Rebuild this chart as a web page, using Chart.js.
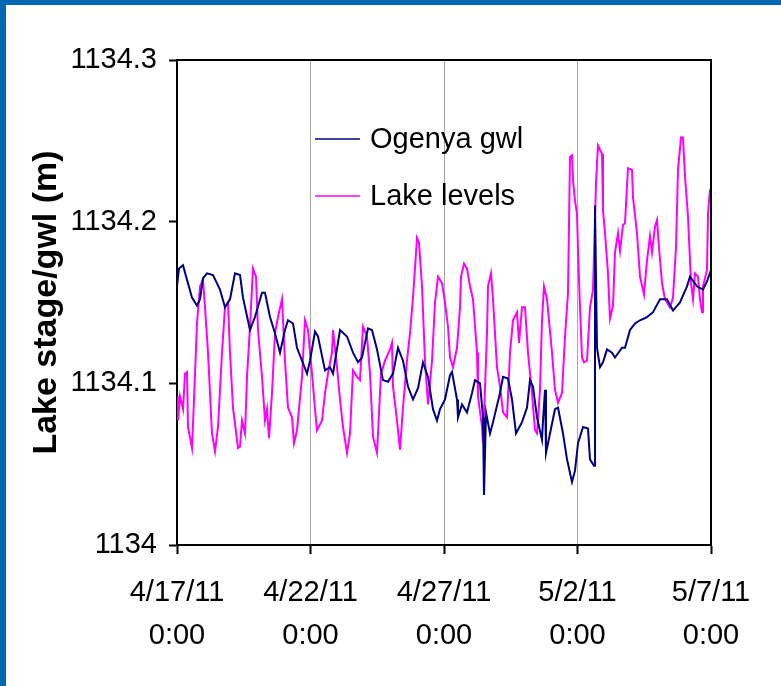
<!DOCTYPE html>
<html>
<head>
<meta charset="utf-8">
<script src="https://cdn.jsdelivr.net/npm/chart.js@4"></script>
<style>
  html, body { margin: 0; padding: 0; background: #fff; }
  canvas { display: block; }
</style>
</head>
<body>
<canvas id="lakeChart" width="781" height="686"></canvas>
<script>
// x = days since 4/17/11 0:00, y = elevation (m)
const xTickLabels = ['4/17/11', '4/22/11', '4/27/11', '5/2/11', '5/7/11'];
const yTickLabels = ['1134', '1134.1', '1134.2', '1134.3'];
const seriesNames = ['Ogenya gwl', 'Lake levels'];

const gwlDays = [0,0.075,0.225,0.375,0.562,0.749,0.861,0.974,1.124,1.348,1.61,1.798,1.985,2.172,2.36,2.472,2.734,2.921,3.184,3.296,3.483,3.67,3.858,4.045,4.157,4.345,4.494,4.682,4.869,4.981,5.169,5.281,5.543,5.73,5.843,6.105,6.367,6.592,6.779,6.929,7.154,7.303,7.491,7.715,7.903,8.09,8.277,8.464,8.652,8.839,9.026,9.213,9.401,9.588,9.738,9.85,10.037,10.225,10.3,10.487,10.524,10.674,10.861,11.049,11.161,11.348,11.461,11.498,11.573,11.723,11.835,12.097,12.21,12.397,12.547,12.697,12.921,13.109,13.221,13.333,13.483,13.67,13.708,13.783,13.82,13.97,14.157,14.27,14.457,14.607,14.794,14.906,15.019,15.206,15.393,15.468,15.618,15.655,15.73,15.843,15.955,16.105,16.292,16.404,16.667,16.779,16.966,17.154,17.341,17.603,17.828,18.09,18.352,18.577,18.839,19.101,19.213,19.476,19.7,19.85,20];
const gwlLevels = [1134.160,1134.171,1134.173,1134.164,1134.153,1134.148,1134.152,1134.165,1134.168,1134.167,1134.158,1134.147,1134.152,1134.168,1134.167,1134.153,1134.133,1134.141,1134.156,1134.156,1134.141,1134.131,1134.119,1134.133,1134.139,1134.137,1134.122,1134.114,1134.106,1134.114,1134.132,1134.129,1134.108,1134.110,1134.106,1134.133,1134.129,1134.119,1134.113,1134.116,1134.134,1134.133,1134.121,1134.102,1134.101,1134.106,1134.122,1134.114,1134.098,1134.090,1134.097,1134.113,1134.104,1134.084,1134.077,1134.084,1134.090,1134.105,1134.107,1134.090,1134.079,1134.087,1134.082,1134.094,1134.102,1134.100,1134.079,1134.031,1134.082,1134.069,1134.076,1134.094,1134.104,1134.103,1134.090,1134.069,1134.076,1134.085,1134.102,1134.098,1134.079,1134.065,1134.077,1134.096,1134.057,1134.069,1134.084,1134.085,1134.069,1134.053,1134.039,1134.046,1134.063,1134.073,1134.072,1134.053,1134.049,1134.210,1134.122,1134.110,1134.113,1134.121,1134.119,1134.116,1134.122,1134.122,1134.133,1134.137,1134.139,1134.141,1134.144,1134.152,1134.152,1134.145,1134.150,1134.160,1134.166,1134.160,1134.158,1134.163,1134.170];

const lakeDays = [0,0.037,0.112,0.225,0.3,0.375,0.412,0.562,0.637,0.749,0.861,0.974,1.049,1.161,1.311,1.423,1.536,1.685,1.798,1.91,1.985,2.097,2.247,2.285,2.36,2.434,2.547,2.622,2.734,2.846,2.959,3.034,3.184,3.296,3.371,3.446,3.558,3.67,3.783,3.933,4.045,4.157,4.307,4.382,4.494,4.682,4.794,4.906,5.056,5.169,5.243,5.431,5.543,5.655,5.805,5.843,5.993,6.105,6.217,6.367,6.479,6.592,6.742,6.854,6.966,7.116,7.228,7.341,7.491,7.64,7.79,7.978,8.052,8.09,8.24,8.352,8.464,8.614,8.727,8.839,8.989,9.064,9.176,9.288,9.401,9.551,9.663,9.775,9.925,10.037,10.15,10.225,10.337,10.487,10.599,10.637,10.749,10.861,10.974,11.086,11.236,11.273,11.423,11.461,11.61,11.648,11.76,11.835,11.985,12.097,12.21,12.36,12.472,12.584,12.734,12.809,12.921,13.034,13.146,13.296,13.408,13.483,13.596,13.67,13.745,13.858,14.045,14.157,14.27,14.419,14.532,14.644,14.719,14.794,14.831,14.906,14.981,15.019,15.094,15.169,15.243,15.356,15.468,15.581,15.693,15.768,15.918,15.955,16.03,16.142,16.217,16.33,16.404,16.517,16.592,16.704,16.779,16.891,17.041,17.079,17.228,17.341,17.491,17.603,17.715,17.79,17.903,17.978,18.052,18.165,18.277,18.464,18.577,18.689,18.764,18.876,18.951,19.026,19.139,19.251,19.326,19.401,19.513,19.588,19.663,19.7,19.85,19.888,19.963,20];
const lakeLevels = [1134.092,1134.077,1134.092,1134.084,1134.106,1134.107,1134.073,1134.060,1134.090,1134.137,1134.160,1134.164,1134.147,1134.119,1134.069,1134.058,1134.073,1134.119,1134.147,1134.150,1134.119,1134.085,1134.065,1134.060,1134.061,1134.077,1134.069,1134.104,1134.135,1134.171,1134.166,1134.133,1134.104,1134.077,1134.084,1134.066,1134.094,1134.131,1134.141,1134.152,1134.114,1134.085,1134.079,1134.063,1134.071,1134.104,1134.139,1134.133,1134.106,1134.084,1134.071,1134.077,1134.094,1134.106,1134.119,1134.133,1134.110,1134.090,1134.073,1134.057,1134.069,1134.108,1134.104,1134.102,1134.135,1134.129,1134.106,1134.067,1134.057,1134.106,1134.114,1134.121,1134.125,1134.098,1134.077,1134.059,1134.085,1134.114,1134.131,1134.153,1134.190,1134.187,1134.160,1134.114,1134.087,1134.114,1134.150,1134.166,1134.162,1134.150,1134.135,1134.116,1134.110,1134.122,1134.147,1134.166,1134.174,1134.171,1134.160,1134.152,1134.119,1134.092,1134.073,1134.063,1134.131,1134.160,1134.168,1134.152,1134.110,1134.098,1134.082,1134.079,1134.119,1134.139,1134.144,1134.125,1134.147,1134.147,1134.119,1134.094,1134.071,1134.069,1134.096,1134.139,1134.160,1134.152,1134.119,1134.096,1134.088,1134.094,1134.129,1134.156,1134.240,1134.241,1134.226,1134.213,1134.205,1134.182,1134.147,1134.116,1134.113,1134.114,1134.147,1134.158,1134.224,1134.247,1134.242,1134.207,1134.193,1134.168,1134.140,1134.148,1134.181,1134.193,1134.182,1134.198,1134.199,1134.233,1134.232,1134.215,1134.193,1134.166,1134.155,1134.176,1134.191,1134.181,1134.197,1134.201,1134.184,1134.162,1134.152,1134.147,1134.153,1134.184,1134.232,1134.252,1134.252,1134.228,1134.203,1134.162,1134.152,1134.168,1134.166,1134.152,1134.144,1134.160,1134.170,1134.205,1134.220,1134.213];

const FONT = "'Liberation Sans Narrow', 'Arial Narrow', 'Liberation Sans', Arial, sans-serif";

function toPoints(xs, ys) {
    return xs.map((x, i) => ({ x: x, y: ys[i] }));
}

// 배경 + 파란 테두리 + 플롯 상/우 테두리 + 범례
const framePlugin = {
    id: 'frame',
    beforeDraw(chart) {
        const ctx = chart.ctx;
        ctx.save();
        ctx.fillStyle = '#ffffff';
        ctx.fillRect(0, 0, chart.width, chart.height);
        ctx.fillStyle = '#0068B3';
        ctx.fillRect(0, 0, chart.width, 5);
        ctx.fillRect(0, 0, 6, chart.height);
        ctx.restore();
    },
    afterDraw(chart) {
        const ctx = chart.ctx;
        const a = chart.chartArea;
        ctx.save();
        ctx.strokeStyle = '#000';
        ctx.lineWidth = 2;
        ctx.beginPath();
        ctx.moveTo(a.left, a.top);
        ctx.lineTo(a.right, a.top);
        ctx.lineTo(a.right, a.bottom);
        ctx.stroke();

        // 범례
        ctx.font = '29px ' + FONT;
        ctx.textBaseline = 'middle';
        ctx.fillStyle = '#000';
        chart.data.datasets.forEach((ds, i) => {
            const y = 139 + i * 57;
            ctx.beginPath();
            ctx.strokeStyle = ds.borderColor;
            ctx.lineWidth = 1.5;
            ctx.moveTo(315, y);
            ctx.lineTo(360, y);
            ctx.stroke();
            ctx.fillText(ds.label, 370, y + 1);
        });
        ctx.restore();
    }
};

new Chart(document.getElementById('lakeChart'), {
    type: 'line',
    data: {
        datasets: [
            {
                label: seriesNames[0],
                data: toPoints(gwlDays, gwlLevels),
                borderColor: '#000080',
                borderWidth: 2,
                pointRadius: 0,
                tension: 0,
                fill: false
            },
            {
                label: seriesNames[1],
                data: toPoints(lakeDays, lakeLevels),
                borderColor: '#FF00FF',
                borderWidth: 2,
                pointRadius: 0,
                tension: 0,
                fill: false
            }
        ]
    },
    options: {
        responsive: false,
        animation: false,
        layout: { padding: { top: 60, right: 70, left: 0, bottom: 0 } },
        plugins: { legend: { display: false }, tooltip: { enabled: false } },
        scales: {
            x: {
                type: 'linear',
                min: 0,
                max: 20,
                afterFit(s) { s.height = 141; },
                afterBuildTicks(s) { s.ticks = [0, 5, 10, 15, 20].map(v => ({ value: v })); },
                border: { display: true, color: '#000', width: 2 },
                grid: { color: '#a6a6a6', lineWidth: 1, tickColor: '#000', tickLength: 9, tickWidth: 2 },
                ticks: {
                    color: '#000',
                    font: { family: FONT, size: 29, lineHeight: 1.48 },
                    padding: 18,
                    maxRotation: 0,
                    callback: (v) => [xTickLabels[Math.round(v / 5)], '0:00']
                }
            },
            y: {
                min: 1134,
                max: 1134.3,
                afterFit(s) { s.width = 177; },
                afterBuildTicks(s) { s.ticks = [0, 1, 2, 3].map(i => ({ value: 1134 + i * 0.1 })); },
                border: { display: true, color: '#000', width: 2 },
                grid: { drawOnChartArea: false, tickColor: '#000', tickLength: 8, tickWidth: 2 },
                ticks: {
                    color: '#000',
                    font: { family: FONT, size: 29 },
                    padding: 12,
                    callback: (v) => yTickLabels[Math.round((v - 1134) * 10)]
                },
                title: {
                    display: true,
                    text: 'Lake stage/gwl (m)',
                    color: '#000',
                    font: { family: "'Liberation Sans', Arial, sans-serif", size: 34, weight: 'bold' },
                    padding: { top: 26, bottom: 0 }
                }
            }
        }
    },
    plugins: [framePlugin]
});
</script>
</body>
</html>
